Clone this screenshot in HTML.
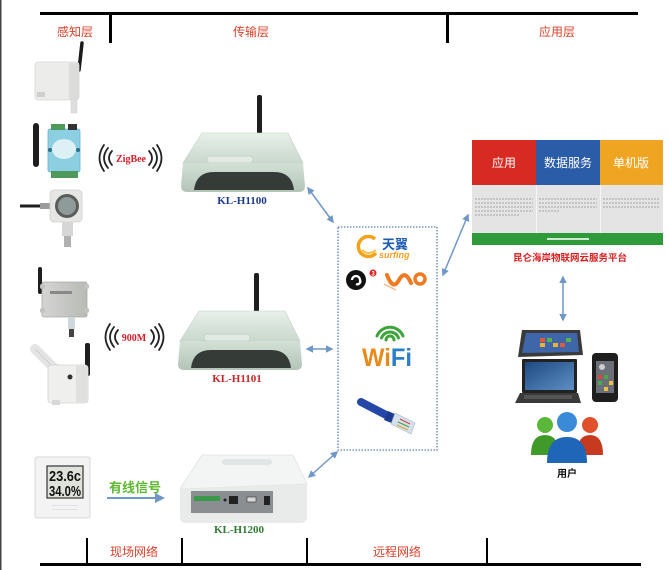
<!DOCTYPE html>
<html><head><meta charset="utf-8"><style>
html,body{margin:0;padding:0;background:#fff;}
svg{display:block;}
text{font-family:"Liberation Sans","Noto Sans CJK SC",sans-serif;}
.sf{font-family:"Liberation Serif","Noto Serif CJK SC",serif;font-weight:bold;}
</style></head><body>
<svg width="669" height="570" viewBox="0 0 669 570" xmlns="http://www.w3.org/2000/svg">
<defs>
<marker id="ah" viewBox="0 0 10 10" refX="8" refY="5" markerWidth="5" markerHeight="5" orient="auto-start-reverse"><path d="M0,0 L10,5 L0,10 z" fill="#6f97c7"/></marker>
<linearGradient id="rt" x1="0" y1="0" x2="0" y2="1"><stop offset="0" stop-color="#e8f0ea"/><stop offset="1" stop-color="#c9d8cd"/></linearGradient>
<linearGradient id="rf" x1="0" y1="0" x2="0" y2="1"><stop offset="0" stop-color="#d3e0d6"/><stop offset="1" stop-color="#b3c4b8"/></linearGradient>
<linearGradient id="lap" x1="0" y1="0" x2="1" y2="1"><stop offset="0" stop-color="#1e4a80"/><stop offset="1" stop-color="#5d8fc4"/></linearGradient>
<linearGradient id="gb" x1="0" y1="0" x2="1" y2="0"><stop offset="0" stop-color="#d4d5d2"/><stop offset="1" stop-color="#b8bab6"/></linearGradient>
</defs>

<rect x="0" y="0" width="1.5" height="570" fill="#444"/>

<!-- top bar -->
<rect x="40" y="12" width="598" height="3" fill="#000"/>
<rect x="109" y="12" width="3" height="31" fill="#000"/>
<rect x="446" y="12" width="3" height="31" fill="#000"/>
<text x="75" y="36" font-size="12" fill="#d9412b" text-anchor="middle">感知层</text>
<text x="251" y="36" font-size="12" fill="#d9412b" text-anchor="middle">传输层</text>
<text x="557" y="36" font-size="12" fill="#d9412b" text-anchor="middle">应用层</text>

<!-- bottom bar -->
<rect x="40" y="563" width="601" height="3" fill="#000"/>
<rect x="86" y="538" width="2" height="27" fill="#000"/>
<rect x="181" y="538" width="2" height="27" fill="#000"/>
<rect x="306" y="538" width="2" height="27" fill="#000"/>
<rect x="486" y="538" width="2" height="27" fill="#000"/>
<text x="134" y="556" font-size="12" fill="#d9412b" text-anchor="middle">现场网络</text>
<text x="397" y="556" font-size="12" fill="#d9412b" text-anchor="middle">远程网络</text>

<!-- device 1 -->
<line x1="82" y1="43" x2="79" y2="70" stroke="#1b1b1b" stroke-width="3.5" stroke-linecap="round"/>
<rect x="35" y="62" width="44" height="38" rx="3" fill="#ececea" stroke="#d6d6d4" stroke-width="0.8"/>
<rect x="69" y="63" width="10" height="36" fill="#dcdcda"/>
<rect x="37" y="92" width="8" height="5" fill="#cfcfcd"/>
<rect x="71" y="99" width="6" height="14" fill="#dedede" stroke="#cfcfcf" stroke-width="0.5"/>

<!-- device 2 -->
<rect x="33" y="123" width="6" height="44" rx="3" fill="#1e1e1e"/>
<rect x="48" y="129" width="32" height="43" rx="2" fill="#8ccfe3" stroke="#6ab4cc" stroke-width="0.8"/>
<rect x="51" y="124" width="14" height="6" fill="#4d9a5a"/>
<rect x="68" y="124" width="9" height="6" fill="#333"/>
<rect x="51" y="171" width="27" height="7" fill="#4d9a5a"/>
<ellipse cx="64" cy="149" rx="12" ry="10" fill="#dcf0f6"/>
<circle cx="50" cy="150" r="2" fill="#2a6f8a"/>
<circle cx="78" cy="150" r="2" fill="#2a6f8a"/>

<!-- device 3 -->
<line x1="20" y1="206" x2="50" y2="206" stroke="#1e1e1e" stroke-width="3"/>
<rect x="40" y="203" width="10" height="6" fill="#9a9a9a"/>
<rect x="50" y="190" width="32" height="32" rx="4" fill="#e6e6e4" stroke="#cfcfcd" stroke-width="0.8"/>
<circle cx="67" cy="206" r="12" fill="#5a5d5c"/>
<circle cx="67" cy="206" r="9" fill="#8e9b99"/>
<rect x="62" y="222" width="11" height="14" fill="#d6d6d6"/>
<rect x="64" y="236" width="7" height="11" fill="#b0b0b0"/>

<!-- ZigBee -->
<g fill="none" stroke="#222" stroke-width="1.8" stroke-linecap="round">
<path d="M104,145 Q95,158 104,171"/><path d="M108,148 Q100,158 108,168"/><path d="M112,151 Q106,158 112,165"/>
<path d="M149,151 Q155,158 149,165"/><path d="M153,148 Q161,158 153,168"/><path d="M157,145 Q166,158 157,171"/>
</g>
<text x="131" y="162" class="sf" font-size="10" fill="#d0202a" text-anchor="middle">ZigBee</text>

<!-- device 4 -->
<rect x="38" y="267" width="4" height="27" rx="2" fill="#1e1e1e"/>
<rect x="42" y="282" width="45" height="35" rx="2" fill="url(#gb)" stroke="#a9aba7" stroke-width="0.8"/>
<rect x="40" y="284" width="5" height="5" rx="2" fill="#c2c3c0"/>
<rect x="84" y="284" width="5" height="5" rx="2" fill="#c2c3c0"/>
<rect x="40" y="308" width="5" height="5" rx="2" fill="#c2c3c0"/>
<rect x="84" y="308" width="5" height="5" rx="2" fill="#c2c3c0"/>
<rect x="50" y="291" width="22" height="3" fill="#888"/>
<rect x="68" y="317" width="7" height="12" fill="#cfd8dc"/>
<rect x="69" y="329" width="5" height="8" fill="#444"/>

<!-- device 5 -->
<line x1="35" y1="349" x2="58" y2="372" stroke="#e4e4e4" stroke-width="10" stroke-linecap="round"/>
<line x1="35" y1="349" x2="58" y2="372" stroke="#cfcfcf" stroke-width="1" />
<rect x="85" y="343" width="5" height="33" rx="2" fill="#1e1e1e"/>
<ellipse cx="57" cy="370" rx="8" ry="6" fill="#dcdcdc"/>
<rect x="48" y="365" width="40" height="38" rx="3" fill="#efefed" stroke="#d2d2d0" stroke-width="0.8"/>
<rect x="76" y="366" width="11" height="36" fill="#e0e0de"/>
<circle cx="70" cy="377" r="2.5" fill="#333"/>
<rect x="52" y="400" width="8" height="5" fill="#d8d8d8"/>

<!-- 900M -->
<g fill="none" stroke="#222" stroke-width="1.8" stroke-linecap="round">
<path d="M110,324 Q101,337 110,350"/><path d="M114,327 Q106,337 114,347"/><path d="M118,330 Q112,337 118,344"/>
<path d="M151,330 Q157,337 151,344"/><path d="M155,327 Q163,337 155,347"/><path d="M159,324 Q168,337 159,350"/>
</g>
<text x="134" y="341" class="sf" font-size="10" fill="#d0202a" text-anchor="middle">900M</text>

<!-- device 6 -->
<rect x="35" y="457" width="55" height="61" rx="2" fill="#f3f3f3" stroke="#d8d8d8" stroke-width="1"/>
<rect x="47" y="466" width="36" height="32" fill="#dfe2da" stroke="#333" stroke-width="1.2"/>
<text x="49" y="481" font-size="15" font-weight="bold" fill="#111" font-family="Liberation Sans, sans-serif" textLength="32" lengthAdjust="spacingAndGlyphs">23.6c</text>
<text x="49" y="496" font-size="15" font-weight="bold" fill="#111" font-family="Liberation Sans, sans-serif" textLength="32" lengthAdjust="spacingAndGlyphs">34.0%</text>
<g fill="#e2e2e2"><rect x="52" y="505" width="26" height="1"/><rect x="52" y="509" width="26" height="1"/></g>

<text x="135" y="492" font-size="13" font-weight="bold" fill="#5cb82f" text-anchor="middle">有线信号</text>
<line x1="107" y1="498" x2="163" y2="498" stroke="#6f97c7" stroke-width="2" marker-end="url(#ah)"/>

<!-- router 1 -->
<g id="r1">
<rect x="257" y="95" width="5" height="44" rx="2" fill="#1e1e1e"/>
<polygon points="202,133 288,133 303,163 183,163" fill="url(#rt)" stroke="#c2d0c6" stroke-width="0.6"/>
<rect x="207" y="156" width="46" height="7" rx="3" fill="#e0eae3" stroke="#bccbc0" stroke-width="0.7"/>
<path d="M183,163 L303,163 L305,186 Q305,192 299,192 L187,192 Q181,192 181,186 Z" fill="url(#rf)"/>
<path d="M194,190 Q196,172 214,172 L274,172 Q292,172 294,190 Z" fill="#353c38"/>
</g>
<text x="242" y="204" class="sf" font-size="11" fill="#1d3a8a" text-anchor="middle">KL-H1100</text>

<!-- router 2 -->
<use href="#r1" transform="translate(-3,178)"/>
<text x="237" y="382" class="sf" font-size="11" fill="#c8262a" text-anchor="middle">KL-H1101</text>

<!-- router 3 -->
<polygon points="202,455 293,455 307,484 180,489" fill="#f3f4f4" stroke="#e0e2e2" stroke-width="0.8"/>
<rect x="222" y="459" width="50" height="6" rx="3" fill="#e2e5e5"/>
<path d="M180,489 L307,484 L307,518 Q306,523 300,523 L186,523 Q180,523 180,517 Z" fill="#e9ebeb"/>
<rect x="191" y="491" width="82" height="22" fill="#8a8e90"/>
<rect x="194" y="496" width="26" height="5" fill="#3a9a4a"/>
<circle cx="225" cy="500" r="1.5" fill="#222"/>
<rect x="229" y="496" width="9" height="8" fill="#222"/>
<rect x="247" y="497" width="9" height="5" fill="#d8d8d8" stroke="#333" stroke-width="0.6"/>
<rect x="264" y="496" width="6" height="9" fill="#222"/>
<text x="239" y="533" class="sf" font-size="11" fill="#2f7a32" text-anchor="middle">KL-H1200</text>

<!-- arrows -->
<g stroke="#6f97c7" stroke-width="1.5" marker-start="url(#ah)" marker-end="url(#ah)">
<line x1="308" y1="188" x2="333" y2="222"/>
<line x1="307" y1="349" x2="332" y2="349"/>
<line x1="309" y1="477" x2="337" y2="452"/>
<line x1="443" y1="275" x2="468" y2="215"/>
<line x1="563" y1="277" x2="563" y2="320"/>
</g>

<!-- dotted box -->
<rect x="338" y="227" width="99" height="223" fill="none" stroke="#5b7fb8" stroke-width="1.3" stroke-dasharray="1.5 1.5"/>

<!-- tianyi -->
<path d="M375,239 A10,10 0 1 0 376,253" fill="none" stroke="#f4a21a" stroke-width="3.5"/>
<path d="M362,250 Q368,256 376,250" fill="none" stroke="#f7c040" stroke-width="2"/>
<text x="382" y="249" font-size="13" font-weight="bold" fill="#1c5cb5">天翼</text>
<text x="379" y="258" font-size="9" font-weight="bold" font-style="italic" fill="#f0a020">surfing</text>

<!-- G3 + WO -->
<circle cx="356" cy="280" r="10" fill="#111"/>
<path d="M352,280 a4,4 0 1 1 8,0 a3,3 0 0 1 -4,4" fill="none" stroke="#fff" stroke-width="2.3"/>
<circle cx="373" cy="273" r="3.5" fill="#d82020"/>
<text x="373" y="275.5" font-size="6" font-weight="bold" fill="#fff" text-anchor="middle">3</text>
<path d="M387,275 Q393,291 399,280 Q405,269 411,283" fill="none" stroke="#f07a20" stroke-width="4" stroke-linecap="round"/>
<circle cx="420" cy="279" r="5" fill="none" stroke="#f07a20" stroke-width="3.5"/>
<path d="M384,284 L396,290" stroke="#f5b890" stroke-width="1.5"/>

<!-- wifi -->
<g fill="none" stroke="#3da53a" stroke-width="3" stroke-linecap="round">
<path d="M386,340 A4,4 0 0 1 394,340"/>
<path d="M381.5,338 A9,9 0 0 1 398.5,338"/>
<path d="M377,336 A14,14 0 0 1 403,336"/>
</g>
<text x="362" y="366" font-size="25" font-weight="bold" textLength="50" lengthAdjust="spacingAndGlyphs"><tspan fill="#e8891c">Wi</tspan><tspan fill="#2a7fc8">Fi</tspan></text>

<!-- ethernet -->
<line x1="361" y1="402" x2="392" y2="418" stroke="#2547a8" stroke-width="8" stroke-linecap="round"/>
<polygon points="388,411 397,415 394,424 384,420" fill="#1d3a90"/>
<polygon points="395,413 415,423 411,434 391,424" fill="#d6e0ea" stroke="#9fb3c8" stroke-width="0.6"/>
<g stroke-width="1"><line x1="400" y1="419" x2="410" y2="424" stroke="#d04040"/><line x1="398" y1="422" x2="409" y2="427" stroke="#40a040"/><line x1="397" y1="425" x2="408" y2="430" stroke="#e0a030"/></g>

<!-- panel -->
<rect x="472" y="140" width="64" height="45" fill="#d62a22"/>
<rect x="536" y="140" width="64" height="45" fill="#2b5ca8"/>
<rect x="600" y="140" width="63" height="45" fill="#f0a522"/>
<rect x="472" y="185" width="191" height="48" fill="#e4e4e4"/>
<rect x="536" y="185" width="1" height="48" fill="#f6f6f6"/>
<rect x="600" y="185" width="1" height="48" fill="#f6f6f6"/>
<rect x="472" y="233" width="191" height="12" fill="#2e9a3a"/>
<text x="504" y="167" font-size="12" fill="#fff" text-anchor="middle">应用</text>
<text x="568" y="167" font-size="12" fill="#fff" text-anchor="middle">数据服务</text>
<text x="631" y="167" font-size="12" fill="#fff" text-anchor="middle">单机版</text>
<g stroke="#8a8a8a" stroke-width="1" stroke-dasharray="2 1" opacity="0.7">
<line x1="475" y1="199" x2="533" y2="199"/><line x1="475" y1="203" x2="533" y2="203"/><line x1="475" y1="207" x2="533" y2="207"/><line x1="475" y1="211" x2="533" y2="211"/><line x1="475" y1="215" x2="520" y2="215"/>
<line x1="539" y1="199" x2="597" y2="199"/><line x1="539" y1="203" x2="597" y2="203"/><line x1="539" y1="207" x2="597" y2="207"/><line x1="539" y1="211" x2="560" y2="211"/>
<line x1="603" y1="199" x2="660" y2="199"/><line x1="603" y1="203" x2="660" y2="203"/><line x1="603" y1="207" x2="660" y2="207"/>
</g>
<rect x="547" y="238" width="42" height="2" fill="#cfe8d2"/>
<text x="570" y="261" font-size="9.5" font-weight="bold" fill="#d42020" text-anchor="middle">昆仑海岸物联网云服务平台</text>

<!-- tablet -->
<polygon points="522,330 580,330 583,355 518,357" fill="#3a3a3a"/>
<polygon points="526,333 577,333 579,352 522,353" fill="#3f66a8"/>
<g fill="#e05a3a"><rect x="540" y="338" width="5" height="4"/><rect x="560" y="343" width="5" height="4"/></g>
<g fill="#5ab04a"><rect x="547" y="338" width="5" height="4"/><rect x="566" y="338" width="5" height="4"/></g>
<g fill="#f0b030"><rect x="553" y="343" width="5" height="4"/><rect x="540" y="343" width="5" height="4"/></g>
<!-- laptop -->
<rect x="522" y="359" width="55" height="34" rx="1" fill="#222"/>
<rect x="525" y="362" width="49" height="28" fill="url(#lap)"/>
<polygon points="520,393 578,393 581,403 515,403" fill="#3a3a3a"/>
<rect x="524" y="395" width="48" height="4" fill="#555"/>
<!-- phone -->
<rect x="592" y="353" width="26" height="49" rx="4" fill="#1e1e1e"/>
<rect x="596" y="361" width="18" height="32" fill="#6a6f78"/>
<g fill="#d84a3a"><rect x="598" y="375" width="4" height="4"/></g>
<g fill="#4aa84a"><rect x="604" y="375" width="4" height="4"/><rect x="598" y="381" width="4" height="4"/></g>
<g fill="#f0c040"><rect x="609" y="381" width="4" height="4"/><rect x="604" y="387" width="4" height="4"/></g>
<circle cx="602" cy="367" r="3" fill="#ccc"/>

<!-- people -->
<path d="M531,455 Q531,435 545,435 Q559,435 559,455 Z" fill="#3f9a2a"/>
<circle cx="545" cy="425" r="8" fill="#5cb83a"/>
<path d="M577,455 Q577,435 590,435 Q603,435 603,455 Z" fill="#c83a20"/>
<circle cx="590" cy="425" r="8" fill="#e0502c"/>
<path d="M547,463 Q547,437 567,437 Q587,437 587,463 Z" fill="#1f66b8"/>
<circle cx="567" cy="422" r="10" fill="#3a8ad8"/>
<text x="567" y="477" font-size="10" font-weight="bold" fill="#111" text-anchor="middle">用户</text>
</svg>
</body></html>
